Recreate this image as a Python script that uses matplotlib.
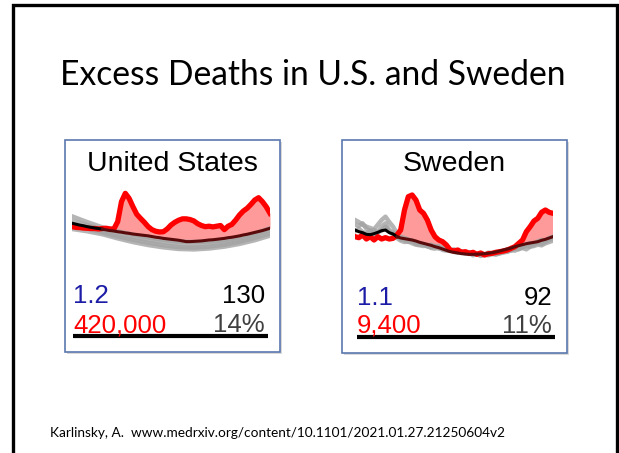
import matplotlib.pyplot as plt
from matplotlib.patches import Rectangle

W, H = 619, 453

weeks = list(range(1, 54))
gray_weeks_us = weeks[::4]

# United States, weekly deaths (thousands)
us_2020 = [58.5, 58.2, 58.1, 57.9, 57.8, 57.7, 57.7, 57.5, 57.7, 57.8, 57.5, 57.5,
           60.7, 69.4, 73.0, 70.8, 67.2, 63.9, 62.1, 60.4, 58.5, 57.2, 56.5, 56.2,
           56.3, 57.5, 59.2, 60.4, 61.3, 61.9, 61.9, 61.6, 61.0, 59.8, 59.0, 58.5,
           58.7, 58.4, 58.7, 59.0, 57.2, 58.7, 59.5, 61.4, 63.6, 65.3, 66.5, 68.2,
           70.1, 71.1, 69.4, 67.2, 64.3]
us_expected = [60.0, 59.6, 59.2, 58.9, 58.5, 58.2, 57.9, 57.7, 57.4, 57.1, 56.8, 56.6,
               56.3, 56.1, 55.8, 55.6, 55.3, 55.1, 54.9, 54.7, 54.5, 54.2, 53.9, 53.7,
               53.4, 53.2, 53.0, 52.8, 52.6, 52.3, 52.0, 52.0, 52.1, 52.2, 52.3, 52.5,
               52.7, 52.8, 53.0, 53.2, 53.4, 53.7, 53.9, 54.2, 54.5, 54.9, 55.2, 55.6,
               56.0, 56.4, 56.8, 57.3, 57.8]
us_past = [
    [63.0, 60.5, 58.2, 56.5, 55.0, 53.8, 52.8, 52.0, 51.8, 52.0, 52.6, 53.8, 55.5, 57.8],
    [61.0, 59.2, 57.0, 55.2, 53.8, 52.6, 51.6, 50.8, 50.6, 50.9, 51.6, 52.8, 54.6, 56.8],
    [59.0, 57.6, 56.0, 54.2, 52.8, 51.5, 50.4, 49.6, 49.4, 49.8, 50.6, 51.9, 53.6, 55.6],
    [57.5, 56.5, 55.2, 53.4, 51.8, 50.5, 49.5, 48.8, 48.6, 49.0, 49.8, 51.0, 52.6, 54.6],
]

# Sweden, weekly deaths
se_2020 = [1900, 1885, 1925, 1865, 1900, 1850, 1900, 1865, 1885, 1865, 1875, 1925,
           2000, 2300, 2500, 2525, 2450, 2300, 2250, 2150, 2000, 1900, 1850, 1825,
           1775, 1700, 1685, 1700, 1665, 1675, 1650, 1665, 1635, 1655, 1625, 1645,
           1650, 1665, 1675, 1685, 1700, 1725, 1750, 1800, 1850, 1975, 2050, 2135,
           2175, 2265, 2300, 2265, 2250]
se_expected = [2000, 1975, 1960, 1935, 1930, 1945, 1965, 1990, 2000, 1960, 1940,
               1900, 1880, 1870, 1860, 1850, 1835, 1815, 1800, 1785, 1770,
               1750, 1735, 1715, 1695, 1675, 1665, 1655, 1645, 1640, 1635,
               1635, 1638, 1640, 1645, 1650, 1660, 1670, 1685, 1700, 1715,
               1730, 1750, 1765, 1780, 1795, 1805, 1815, 1825, 1845, 1860,
               1880, 1900]
se_past = [
    [2150, 2120, 2080, 2050, 2030, 2010, 2080, 2150, 2200, 2120, 2050, 1950, 1900,
     1880, 1860, 1830, 1810, 1800, 1780, 1760, 1780, 1750, 1760, 1730, 1720, 1700,
     1680, 1690, 1660, 1650, 1670, 1640, 1650, 1620, 1640, 1630, 1650, 1640, 1660,
     1680, 1670, 1700, 1720, 1710, 1740, 1760, 1750, 1780, 1800, 1790, 1820, 1850, 1870],
    [2080, 2060, 2100, 2020, 1980, 2000, 1960, 2050, 2100, 2000, 1960, 1920, 1860,
     1850, 1820, 1840, 1790, 1780, 1790, 1750, 1740, 1760, 1720, 1730, 1700, 1690,
     1710, 1670, 1680, 1660, 1640, 1660, 1630, 1650, 1630, 1660, 1640, 1670, 1650,
     1690, 1710, 1690, 1730, 1760, 1740, 1780, 1800, 1790, 1830, 1850, 1840, 1880, 1900],
    [1980, 2020, 1970, 1950, 1990, 1930, 1970, 1990, 2050, 1980, 1930, 1880, 1840,
     1820, 1830, 1800, 1780, 1770, 1760, 1770, 1730, 1720, 1740, 1700, 1690, 1700,
     1670, 1660, 1680, 1650, 1660, 1620, 1640, 1610, 1630, 1620, 1640, 1630, 1650,
     1660, 1680, 1700, 1690, 1720, 1730, 1710, 1750, 1760, 1780, 1770, 1800, 1820, 1840],
]

panel_titles = ["United States", "Sweden"]
ratio_labels = ["1.2", "1.1"]
per_100k_labels = ["130", "92"]
excess_labels = ["420,000", "9,400"]
pct_labels = ["14%", "11%"]

fig = plt.figure(figsize=(W / 100, H / 100), dpi=100)
bg = fig.add_axes([0, 0, 1, 1])
bg.set_xlim(0, W)
bg.set_ylim(H, 0)
bg.axis("off")

# slide frame (open at the bottom)
bg.plot([13, 13, 617, 617], [H + 5, 5, 5, H + 5], color="black", lw=2.4,
        solid_joinstyle="miter")

bg.text(313, 85, "Excess Deaths in U.S. and Sweden", ha="center", va="baseline",
        fontsize=24.2, family="Lato")
bg.text(50, 437, "Karlinsky, A.  www.medrxiv.org/content/10.1101/2021.01.27.21250604v2",
        ha="left", va="baseline", fontsize=9.8, family="Lato")

boxes = [(65, 140, 280, 352), (342, 140, 567, 353)]
text_cols = [(73, 265), (357, 552)]
rows = [(303, 332, 336), (305, 333, 337)]

for i, (x0, y0, x1, y1) in enumerate(boxes):
    bg.add_patch(Rectangle((x0 + 2, y0 + 2), x1 - x0, y1 - y0, facecolor="#d9d9d9",
                           edgecolor="none"))
    bg.add_patch(Rectangle((x0, y0), x1 - x0, y1 - y0, facecolor="white",
                           edgecolor="#5a78ae", lw=1.2))
    cx = (x0 + x1) / 2
    bg.text(cx, 171, panel_titles[i], ha="center", va="baseline", fontsize=20.5,
            family="Liberation Sans")
    left, right = text_cols[i]
    r1, r2, ul = rows[i]
    bg.text(left, r1, ratio_labels[i], ha="left", va="baseline", fontsize=18.5,
            color="#1c1ca6", family="Liberation Sans")
    bg.text(right, r1, per_100k_labels[i], ha="right", va="baseline", fontsize=18.5,
            color="black", family="Liberation Sans")
    bg.text(left, r2, excess_labels[i], ha="left", va="baseline", fontsize=18.5,
            color="#ff0000", family="Liberation Sans")
    bg.text(right, r2, pct_labels[i], ha="right", va="baseline", fontsize=18.5,
            color="#404040", family="Liberation Sans")
    bg.plot([left, right + 3], [ul, ul], color="black", lw=3, solid_capstyle="butt")


def px_axes(x0, y0, x1, y1):
    ax = fig.add_axes([x0 / W, 1 - y1 / H, (x1 - x0) / W, (y1 - y0) / H])
    ax.set_facecolor("none")
    ax.axis("off")
    return ax


def draw_panel(ax, past_weeks, past, actual, expected, split, ylim):
    for series in past:
        ax.plot(past_weeks, series, color="#a3a3a3", lw=3.2, alpha=0.8,
                solid_joinstyle="round")
    ax.fill_between(weeks, expected, actual,
                    where=[a >= e for a, e in zip(actual, expected)],
                    interpolate=True, color="#ff2020", alpha=0.45, lw=0)
    ax.plot(weeks, actual, color="#ff0000", lw=3.8, solid_joinstyle="round")
    ax.plot(weeks[:split], expected[:split], color="black", lw=2.2)
    ax.plot(weeks[split - 1:], expected[split - 1:], color="#5a0a0a", lw=2.2)
    ax.set_xlim(1, 53)
    ax.set_ylim(*ylim)


ax_us = px_axes(72, 180, 270, 260)
draw_panel(ax_us, gray_weeks_us, us_past, us_2020, us_expected, 9, (44.0, 78.8))

ax_se = px_axes(355, 180, 553, 265)
draw_panel(ax_se, weeks, se_past, se_2020, se_expected, 12, (1475, 2750))

fig.savefig("out.png", dpi=100)
